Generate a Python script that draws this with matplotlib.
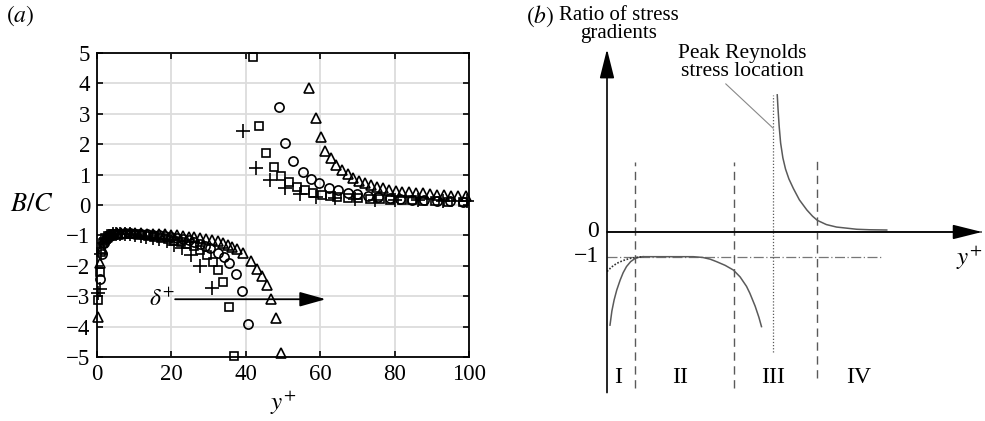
import matplotlib
matplotlib.use("Agg")
import matplotlib.pyplot as plt

plt.rcParams['font.family'] = ['Liberation Serif', 'DejaVu Serif']
plt.rcParams['mathtext.fontset'] = 'stix'

# ---------------- Panel (a) data ----------------
plus_x = [0.3, 0.7, 1.2, 1.8, 2.5, 3.3, 4.2, 5.2, 6.3, 7.5, 8.8, 10.2, 11.7, 13.3, 15.0,
          16.8, 18.7, 20.7, 22.8, 25.2, 27.8, 30.8,
          39.3, 42.7, 46.5, 50.5, 54.6, 58.9, 64.0, 69.4, 74.7, 80.1, 86.3, 93.0, 99.5]
plus_y = [-2.9, -2.75, -1.6, -1.25, -1.1, -1.02, -0.97, -0.95, -0.95, -0.96, -0.97, -0.99,
          -1.01, -1.04, -1.08, -1.13, -1.2, -1.3, -1.43, -1.65, -2.0, -2.72,
          2.44, 1.23, 0.82, 0.55, 0.36, 0.25, 0.22, 0.2, 0.18, 0.17, 0.15, 0.14, 0.13]

sq_x = [0.3, 0.7, 1.1, 1.6, 2.2, 2.9, 3.7, 4.6, 5.6, 6.7, 7.9, 9.2, 10.6, 12.1, 13.7, 15.4,
        17.2, 19.0, 20.8, 22.6, 24.3, 26.0, 27.7, 29.5, 31.3, 32.6, 33.8, 35.6, 36.8,
        42.0, 43.6, 45.4, 47.6, 49.4, 51.6, 53.7, 55.9, 58.1, 60.4, 62.6, 64.6, 67.5, 70.2,
        73.4, 76.1, 78.8, 81.9, 84.6, 87.7, 90.9, 94.4, 98.5]
sq_y = [-3.12, -2.19, -1.54, -1.25, -1.1, -1.02, -0.97, -0.95, -0.94, -0.94, -0.95, -0.96,
        -0.97, -0.99, -1.01, -1.04, -1.08, -1.12, -1.17, -1.22, -1.28, -1.36, -1.47, -1.64,
        -1.86, -2.14, -2.54, -3.34, -4.97,
        4.88, 2.6, 1.72, 1.24, 0.96, 0.77, 0.6, 0.49, 0.38, 0.33, 0.3, 0.26, 0.24, 0.22,
        0.2, 0.19, 0.18, 0.16, 0.15, 0.14, 0.12, 0.11, 0.09]

circ_x = [0.8, 1.3, 1.9, 2.6, 3.4, 4.3, 5.3, 6.4, 7.6, 8.9, 10.3, 11.8, 13.4, 15.0, 16.6,
          18.2, 19.8, 21.4, 23.0, 24.6, 26.2, 27.7, 29.1, 30.5, 32.6, 34.1, 35.6, 37.4, 38.9,
          40.7,
          48.8, 50.6, 52.8, 55.3, 57.4, 59.6, 62.3, 64.9, 67.6, 70.0, 72.9, 75.6, 78.8, 81.5,
          84.6, 87.9, 91.3, 94.9, 98.3]
circ_y = [-2.44, -1.6, -1.25, -1.1, -1.02, -0.97, -0.95, -0.94, -0.93, -0.93, -0.94, -0.95,
          -0.96, -0.98, -1.0, -1.02, -1.05, -1.08, -1.12, -1.16, -1.21, -1.27, -1.34, -1.43,
          -1.59, -1.7, -1.92, -2.28, -2.82, -3.93,
          3.23, 2.04, 1.45, 1.08, 0.87, 0.71, 0.56, 0.49, 0.4, 0.36, 0.31, 0.27, 0.22, 0.2,
          0.18, 0.16, 0.14, 0.13, 0.11]

tri_x = [0.35, 0.8, 1.3, 1.9, 2.6, 3.4, 4.3, 5.3, 6.4, 7.6, 8.9, 10.3, 11.8, 13.4, 15.0,
         16.6, 18.2, 19.8, 21.4, 23.0, 24.6, 26.2, 27.8, 29.4, 31.0, 32.5, 34.0, 35.2, 36.2,
         37.5, 39.3, 41.5, 43.1, 44.4, 45.7, 46.8, 48.0, 49.4,
         57.1, 58.8, 60.1, 61.3, 62.8, 64.2, 65.8, 67.4, 68.9, 70.5, 72.0, 73.6, 75.2, 77.0,
         78.6, 80.3, 82.1, 84.0, 85.8, 87.7, 89.5, 91.3, 93.3, 95.1, 97.1, 99.2]
tri_y = [-3.67, -1.92, -1.4, -1.15, -1.04, -0.98, -0.95, -0.93, -0.92, -0.92, -0.92, -0.93,
         -0.93, -0.94, -0.95, -0.96, -0.97, -0.98, -1.0, -1.02, -1.04, -1.06, -1.09, -1.12,
         -1.16, -1.2, -1.25, -1.31, -1.37, -1.46, -1.59, -1.84, -2.1, -2.32, -2.64, -3.09,
         -3.73, -4.88,
         3.84, 2.85, 2.23, 1.79, 1.53, 1.32, 1.15, 1.01, 0.88, 0.79, 0.71, 0.66, 0.6, 0.55,
         0.49, 0.47, 0.44, 0.42, 0.4, 0.38, 0.36, 0.34, 0.32, 0.31, 0.29, 0.28]

xticks_a = [0, 20, 40, 60, 80, 100]
yticks_a = [-5, -4, -3, -2, -1, 0, 1, 2, 3, 4, 5]

# ---------------- Panel (b) schematic data ----------------
r1_x = [0.8, 1.3, 1.9, 2.6, 3.5, 4.3, 5.2, 6.3, 7.5, 8.6, 9.7]
r1_y = [-3.77, -3.2, -2.75, -2.35, -1.95, -1.65, -1.4, -1.2, -1.07, -1.02, -1.0]
dot_x = [0.0, 1.2, 2.6, 4.2, 6.1, 7.8, 9.6]
dot_y = [-1.6, -1.42, -1.27, -1.16, -1.07, -1.03, -1.0]
r2_x = [9.6, 23.0, 25.5, 27.5, 29.2, 31.5, 33.7, 35.5, 37.2, 38.1, 39.5, 40.5, 41.2]
r2_y = [-1.0, -1.0, -1.03, -1.1, -1.2, -1.35, -1.54, -1.82, -2.2, -2.48, -3.0, -3.45, -3.83]
r3_x = [45.4, 45.6, 45.9, 46.3, 46.9, 47.6, 48.5, 49.7, 51.3, 53.3, 54.8, 56.1, 58.5,
        61.2, 66.6, 70.0, 74.6]
r3_y = [5.55, 5.0, 4.3, 3.6, 3.0, 2.55, 2.15, 1.76, 1.3, 0.89, 0.64, 0.47, 0.3,
        0.2, 0.11, 0.09, 0.08]
bounds_x = [7.5, 33.9, 56.0]
bounds_top = [2.83, 2.83, 2.9]
bounds_bot = [-6.3, -6.3, -5.9]
peak_x = 44.3
region_labels = ['I', 'II', 'III', 'IV']
region_x = [3.0, 19.5, 44.3, 67.0]

fig = plt.figure(figsize=(9.85, 4.21), dpi=100)

# ---------------- Panel (a) ----------------
ax = fig.add_axes([97 / 985, (421 - 357) / 421, 372 / 985, 304 / 421])
ax.set_xlim(0, 100)
ax.set_ylim(-5, 5)
ax.set_xticks(xticks_a)
ax.set_yticks(yticks_a)
ax.grid(True, color='#dcdcdc', lw=1.3, zorder=0)
ax.tick_params(direction='in', top=True, right=True, length=4, width=1.2,
               labelsize=16.5, pad=5)
for s in ax.spines.values():
    s.set_linewidth(1.3)
mk = dict(ls='none', mfc='none', mec='black', mew=1.2, clip_on=False, zorder=3)
ax.plot(plus_x, plus_y, marker='+', ms=10.5, **mk)
ax.plot(sq_x, sq_y, marker='s', ms=6.0, **mk)
ax.plot(circ_x, circ_y, marker='o', ms=6.6, **mk)
ax.plot(tri_x, tri_y, marker='^', ms=7.6, **mk)
ax.annotate('', xy=(61.5, -3.1), xytext=(21, -3.1),
            arrowprops=dict(arrowstyle='-|>,head_length=1.0,head_width=0.28',
                            color='black', lw=1.3, mutation_scale=16,
                            shrinkA=0, shrinkB=0), zorder=4)
ax.text(17.5, -3.1, r'$\delta^{+}$', fontsize=17, ha='center', va='center')
ax.set_ylabel(r'$B/C$', fontsize=19, rotation=0, va='center')
ax.yaxis.set_label_coords(-0.175, 0.5)
ax.set_xlabel(r'$y^{+}$', fontsize=18)
ax.xaxis.set_label_coords(0.5, -0.105)
fig.text(20 / 985, 1 - 16 / 421, r'$(a)$', fontsize=17, ha='center', va='center')

# ---------------- Panel (b) ----------------
bx = fig.add_axes([607 / 985, (421 - 400) / 421, 375 / 985, 360 / 421])
bx.set_xlim(0, 100)
bx.set_ylim(-6.80, 7.77)
bx.axis('off')
gray = '#5a5a5a'
bx.annotate('', xy=(0, 7.4), xytext=(0, -6.5),
            arrowprops=dict(arrowstyle='-|>,head_length=1.2,head_width=0.3',
                            color='black', lw=1.2, mutation_scale=15, shrinkA=0, shrinkB=0))
bx.annotate('', xy=(100, 0), xytext=(0, 0),
            arrowprops=dict(arrowstyle='-|>,head_length=1.2,head_width=0.3',
                            color='black', lw=1.2, mutation_scale=15, shrinkA=0, shrinkB=0))
bx.plot([0, 100], [0, 0], color=gray, lw=1.3)
bx.plot([0, 73.6], [-1, -1], color='#777777', lw=0.9, ls=(0, (8, 2, 1, 2)))
for xb, t, b in zip(bounds_x, bounds_top, bounds_bot):
    bx.plot([xb, xb], [b, t], color=gray, lw=1.0, ls=(0, (6, 4)))
bx.plot([peak_x, peak_x], [-4.86, 5.55], color=gray, lw=0.9, ls=(0, (1, 1.5)))
bx.plot(r1_x, r1_y, color=gray, lw=1.1)
bx.plot(dot_x, dot_y, color='#333333', lw=1.2, ls=(0, (1, 1)))
bx.plot(r2_x, r2_y, color=gray, lw=1.1)
bx.plot(r3_x, r3_y, color=gray, lw=1.1)
bx.text(-2.2, 0, '0', fontsize=17, ha='right', va='center')
bx.text(-2.2, -1, '\u22121', fontsize=17, ha='right', va='center')
for lab, xr in zip(region_labels, region_x):
    bx.text(xr, -5.87, lab, fontsize=17, ha='center', va='center')
bx.text(96.5, -1.05, r'$y^{+}$', fontsize=18, ha='center', va='center')
bx.text(3.2, 8.4, 'Ratio of stress\ngradients', fontsize=15, ha='center',
        va='center', linespacing=0.9, clip_on=False)
bx.annotate('Peak Reynolds\nstress location', xy=(peak_x, 4.2), xytext=(36.0, 6.85),
            fontsize=15.5, ha='center', va='center', linespacing=0.9,
            arrowprops=dict(arrowstyle='-', color='#888888', lw=0.8,
                            shrinkA=0, shrinkB=0,
                            relpos=(0.35, 0.0)))
fig.text(540 / 985, 1 - 16 / 421, r'$(b)$', fontsize=17, ha='center', va='center')

fig.savefig('out.png', dpi=100)
